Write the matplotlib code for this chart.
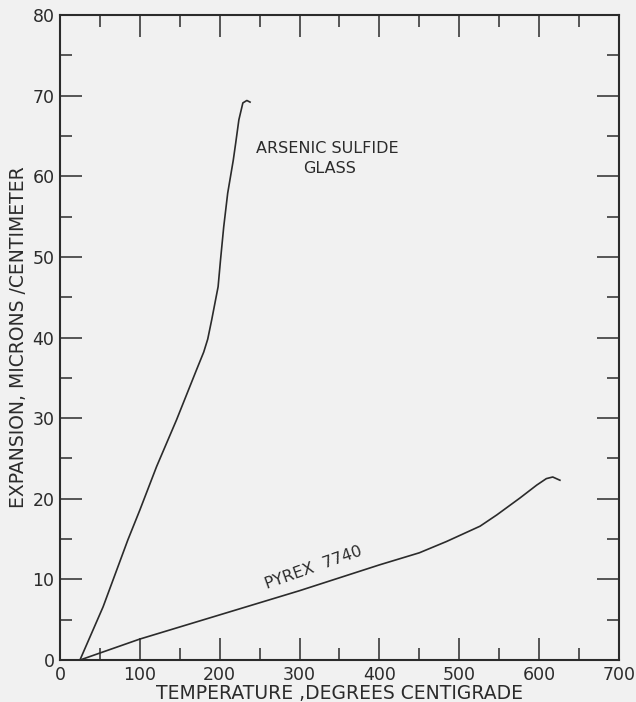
import numpy as np
import matplotlib
matplotlib.use("Agg")
import matplotlib.pyplot as plt
from matplotlib.ticker import MultipleLocator

# -----------------------------------------------------------
# DATA
# -----------------------------------------------------------
arsenic_temp = [25, 54, 85, 100, 121, 146, 171, 180, 185, 190, 198, 201, 205,
                210, 217, 220, 224, 229, 234, 238]
arsenic_exp = [0, 6.6, 14.9, 18.6, 24.0, 29.8, 36.0, 38.2, 39.8, 42.2, 46.3,
               49.6, 53.7, 57.9, 62.0, 64.1, 67.0, 69.1, 69.4, 69.2]

pyrex_temp = [25, 100, 200, 300, 400, 450, 484, 526, 547, 576, 597, 609, 617, 626]
pyrex_exp = [0, 2.6, 5.6, 8.6, 11.8, 13.3, 14.7, 16.6, 18.0, 20.1, 21.7, 22.5,
             22.7, 22.3]

x_ticks = [0, 100, 200, 300, 400, 500, 600, 700]
y_ticks = [0, 10, 20, 30, 40, 50, 60, 70, 80]

INK = "#2b2b2b"
BG = "#f1f1f1"

plt.rcParams['font.family'] = ['DejaVu Sans']

fig = plt.figure(figsize=(6.36, 7.02), dpi=100, facecolor=BG)
ax = fig.add_axes([0.0943, 0.0598, 0.8790, 0.9188], facecolor=BG)

ax.plot(arsenic_temp, arsenic_exp, color=INK, lw=1.2, solid_joinstyle='round')
ax.plot(pyrex_temp, pyrex_exp, color=INK, lw=1.2, solid_joinstyle='round')

ax.set_xlim(0, 700)
ax.set_ylim(0, 80)
ax.set_xticks(x_ticks)
ax.set_yticks(y_ticks)
ax.xaxis.set_minor_locator(MultipleLocator(50))
ax.yaxis.set_minor_locator(MultipleLocator(5))

ax.tick_params(which='both', direction='in', top=True, right=True,
               color=INK, labelcolor=INK, labelsize=12.5)
ax.tick_params(which='major', length=16, width=1.1, pad=4)
ax.tick_params(which='minor', length=8.5, width=1.1)

for sp in ax.spines.values():
    sp.set_color(INK)
    sp.set_linewidth(1.5)

ax.set_xlabel("TEMPERATURE ,DEGREES CENTIGRADE", fontsize=13.5, color=INK,
              labelpad=0)
ax.set_ylabel("EXPANSION, MICRONS /CENTIMETER", fontsize=13.5, color=INK,
              labelpad=3)

ax.text(335, 63.5, "ARSENIC SULFIDE", fontsize=11.5, color=INK,
        ha='center', va='center')
ax.text(337, 61.0, "GLASS", fontsize=11.5, color=INK, ha='center', va='center')
ax.text(318, 11.4, "PYREX  7740", fontsize=11.5, color=INK, ha='center',
        va='center', rotation=19.5)

fig.savefig("out.png", dpi=100, facecolor=BG)
